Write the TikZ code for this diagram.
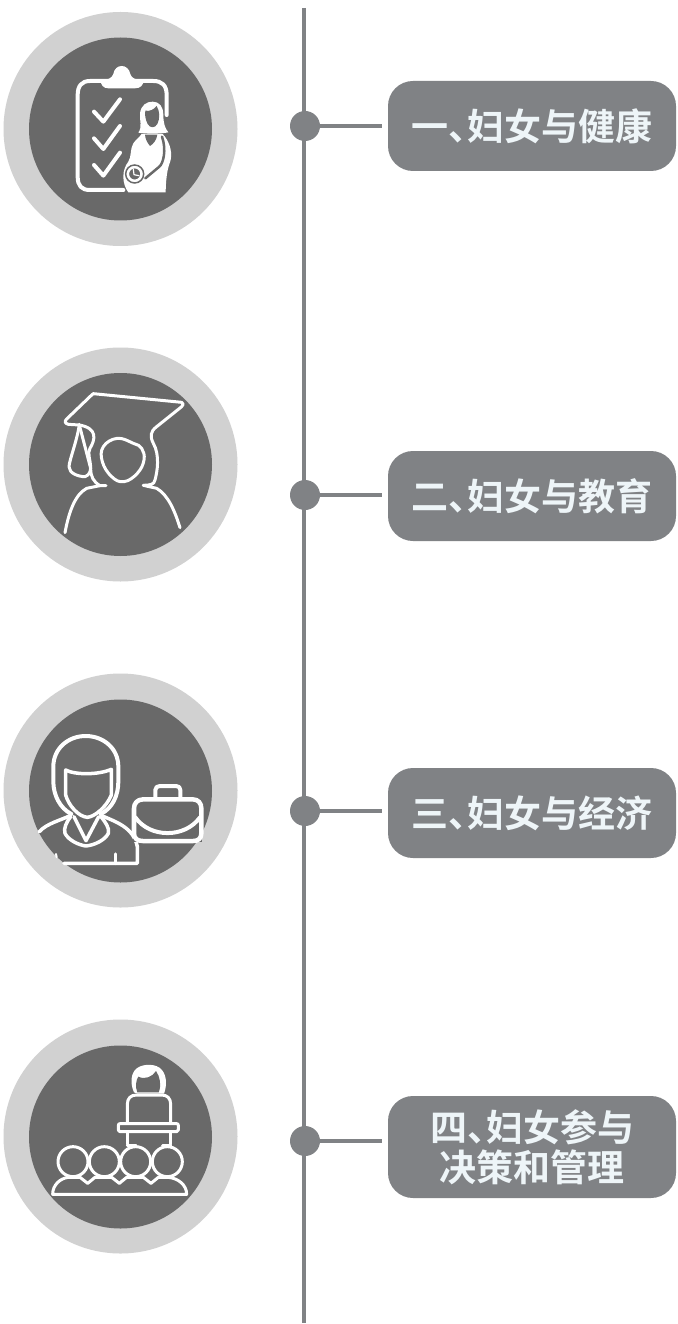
\documentclass[tikz,border=0pt]{standalone}
\usepackage{fontspec}
\newfontfamily\cjk{Noto Sans CJK SC Bold}
\definecolor{barcol}{HTML}{808285}
\definecolor{ringcol}{HTML}{D1D1D1}
\definecolor{discol}{HTML}{696969}
\definecolor{txtcol}{HTML}{EEF5F8}
\tikzset{
  ring/.style={circle,fill=ringcol,minimum size=234pt,inner sep=0pt},
  disc/.style={circle,fill=discol,minimum size=183pt,inner sep=0pt},
  dotnode/.style={circle,fill=barcol,minimum size=30pt,inner sep=0pt},
  labelbox/.style={rounded corners=25pt,fill=barcol,minimum width=288pt,inner sep=0pt,text=txtcol,align=center,font=\cjk\fontsize{37}{40}\selectfont},
  barline/.style={draw=barcol,line width=4pt},
  linkline/.style={draw=barcol,line width=3.4pt},
  icon/.style={draw=white,line width=#1,line cap=round,line join=round},
  icon/.default=3pt
}
\begin{document}
\begin{tikzpicture}[x=1pt,y=-1pt]
\useasboundingbox (0,0) rectangle (677,1324);
\fill[white] (0,0) rectangle (677,1324);
\coordinate (top) at (303.7,8);
\coordinate (bottom) at (303.7,1323);
\draw[barline] (top) -- (bottom);

% rows
\node[ring] (r1) at (120.5,129) {};
\node[disc] (c1) at (120.5,129) {};
\node[ring] (r2) at (120.5,464.5) {};
\node[disc] (c2) at (120.5,464.5) {};
\node[ring] (r3) at (120.5,790.5) {};
\node[disc] (c3) at (120.5,791) {};
\node[ring] (r4) at (120.5,1136.5) {};
\node[disc] (c4) at (120.5,1137) {};

\node[dotnode] (d1) at (305,126) {};
\node[dotnode] (d2) at (305,495) {};
\node[dotnode] (d3) at (305,811) {};
\node[dotnode] (d4) at (305,1141) {};

\node[labelbox,minimum height=90pt] (b1) at (532,126) {一、\kern-18pt妇女与健康};
\node[labelbox,minimum height=90pt] (b2) at (532,496) {二、\kern-18pt妇女与教育};
\node[labelbox,minimum height=90pt] (b3) at (532,813) {三、\kern-18pt妇女与经济};
\node[labelbox,minimum height=102pt] (b4) at (532,1147) {四、\kern-18pt妇女参与\\决策和管理};

\coordinate (e1) at (382,126);
\coordinate (e2) at (382,495);
\coordinate (e3) at (382,811);
\coordinate (e4) at (382,1141);
\foreach \i in {1,2,3,4} \draw[linkline] (d\i.center) -- (e\i);

% icon 1: clipboard and pregnant woman
\begin{scope}[scale=1/3]
  \draw[icon=4pt] (500,345) -- (500,285) .. controls (500,255) and (485,243) .. (460,243) -- (270,243) .. controls (245,243) and (233,258) .. (233,285)
    -- (233,530) .. controls (233,558) and (245,570) .. (270,570) -- (370,570);
  \fill[white] (302,240) .. controls (325,240) and (335,235) .. (340,222) .. controls (345,190) and (385,190) .. (391,222)
    .. controls (395,235) and (405,240) .. (432,240) .. controls (430,255) and (422,265) .. (405,265) -- (325,265) .. controls (310,265) and (302,255) .. (302,240) -- cycle;
  \draw[icon=4pt] (282,335) -- (310,365) -- (360,298);
  \draw[icon=4pt] (282,415) -- (310,447) -- (360,378);
  \draw[icon=4pt] (282,495) -- (310,527) -- (360,458);
  % hair
  \fill[white] (415,398) .. controls (428,380) and (418,360) .. (420,340) .. controls (423,315) and (440,305) .. (458,305)
    .. controls (478,305) and (490,320) .. (490,345) .. controls (490,370) and (495,385) .. (505,397) .. controls (480,402) and (440,402) .. (415,398) -- cycle;
  \fill[discol] (436,332) .. controls (450,335) and (462,328) .. (470,318) .. controls (480,335) and (480,355) .. (472,372) .. controls (465,385) and (450,385) .. (443,372) .. controls (436,358) and (434,345) .. (436,332) -- cycle;
  % body
  \fill[white] (425,402) -- (488,402) .. controls (505,420) and (518,450) .. (512,480) .. controls (505,500) and (498,520) .. (497,577)
    -- (385,577) .. controls (365,550) and (365,510) .. (385,485) .. controls (395,470) and (390,445) .. (400,430) .. controls (408,418) and (418,412) .. (425,402) -- cycle;
  \fill[discol] (435,404) -- (472,404) .. controls (470,420) and (460,432) .. (450,438) .. controls (442,428) and (436,418) .. (435,404) -- cycle;
  \draw[icon=2.5pt,draw=discol] (486,410) .. controls (500,450) and (490,490) .. (478,500) -- (436,535);
  \filldraw[draw=discol,line width=1.5pt,fill=white] (404,522) circle (27);
  \filldraw[draw=white,line width=1.5pt,fill=discol] (404,522) circle (19);
  \draw[icon=1.2pt] (400,508) -- (402,524) -- (417,527);
\end{scope}

% icon 2: graduate
\begin{scope}[shift={(0,345)},scale=1/3]
  \draw[icon=3pt] (318,422) -- (300,422) .. controls (280,410) and (272,395) .. (272,370) -- (238,240);
  \draw[icon=3pt] (238,238) .. controls (232,285) and (208,345) .. (207,365) .. controls (207,385) and (235,395) .. (255,395) .. controls (268,390) and (272,380) .. (272,365)
    .. controls (270,340) and (262,325) .. (270,310) .. controls (285,285) and (295,250) .. (238,240);
  \draw[icon=3pt] (205,238) .. controls (195,235) and (192,230) .. (200,222) -- (275,150) -- (280,146) -- (545,172) .. controls (552,175) and (550,180) .. (545,185) -- (470,245)
    .. controls (450,260) and (450,275) .. (460,295) .. controls (480,330) and (472,380) .. (465,405) .. controls (462,420) and (450,420) .. (430,421);
  \draw[icon=3pt] (205,238) -- (238,240);
  \draw[icon=3pt] plot[smooth cycle,tension=0.7] coordinates {(352,280) (400,295) (425,310) (432,345) (412,385) (372,410) (335,395) (307,350) (310,305)};
  \draw[icon=3pt] (195,563) .. controls (205,510) and (222,450) .. (260,430) -- (300,422);
  \draw[icon=3pt] (430,421) -- (470,430) .. controls (505,450) and (525,500) .. (540,548);
\end{scope}

% icon 3: businesswoman
\begin{scope}[shift={(0,670)},scale=1/3]
  \draw[icon=4pt] (214,432) .. controls (180,415) and (160,375) .. (160,335) -- (160,290) .. controls (160,235) and (205,198) .. (257,198) .. controls (310,198) and (355,235) .. (355,290) -- (355,335) .. controls (355,375) and (338,415) .. (302,432);
  \draw[icon=3.5pt] (197,300) .. controls (225,315) and (295,315) .. (334,298) -- (334,375) .. controls (320,410) and (285,440) .. (262,442) .. controls (235,440) and (205,405) .. (197,375) -- cycle;
  \draw[icon=3.5pt] (222,440) -- (258,512) -- (296,440);
  \draw[icon=3.5pt] (212,440) .. controls (200,455) and (190,475) .. (195,490) .. controls (205,510) and (235,525) .. (258,528) .. controls (285,525) and (315,510) .. (325,490) .. controls (330,475) and (315,455) .. (303,440);
  \draw[icon=3.5pt] (118,485) .. controls (140,460) and (185,450) .. (212,436);
  \draw[icon=3.5pt] (303,436) .. controls (345,455) and (400,470) .. (412,530) -- (412,580) -- (192,580);
  \draw[icon=3.5pt] (347,552) -- (347,580);
  \draw[icon=2pt] (168,552) -- (170,562);
  % briefcase
  \fill[discol] (400,410) rectangle (605,515);
  \draw[icon=4pt] (466,382) -- (466,360) .. controls (466,352) and (472,348) .. (480,348) -- (528,348) .. controls (536,348) and (541,352) .. (541,360) -- (541,382);
  \draw[icon=4.5pt] (430,388) -- (578,388) .. controls (595,388) and (604,400) .. (604,415) -- (604,490) .. controls (604,505) and (595,513) .. (580,513) -- (428,513) .. controls (412,513) and (402,505) .. (402,490) -- (402,415) .. controls (402,400) and (412,388) .. (430,388) -- cycle;
  \draw[icon=4pt] (406,442) .. controls (450,505) and (555,505) .. (600,442);
\end{scope}

% icon 4: speaker and audience
\begin{scope}[shift={(0,1015)},scale=1/3]
  \fill[white] (402,232) .. controls (390,205) and (392,175) .. (410,160) .. controls (430,145) and (470,145) .. (486,165) .. controls (502,185) and (500,215) .. (492,236) -- (480,236) -- (412,236) -- cycle;
  \fill[discol] (412,232) .. controls (405,215) and (408,195) .. (415,185) .. controls (435,195) and (458,185) .. (468,168) .. controls (480,185) and (485,210) .. (476,232) -- cycle;
  \draw[icon=3pt] (382,325) -- (382,268) .. controls (382,250) and (392,240) .. (410,240) -- (485,240) .. controls (502,240) and (512,250) .. (512,268) -- (512,325);
  \draw[icon=3pt] (382,350) -- (382,388);
  \draw[icon=3pt] (512,350) -- (512,388);
  \draw[icon=3pt] (360,326) -- (530,326) .. controls (535,326) and (535,329) .. (535,332) -- (535,345) .. controls (535,349) and (533,350) .. (530,350) -- (360,350) .. controls (356,350) and (355,348) .. (355,345) -- (355,332) .. controls (355,328) and (356,326) .. (360,326) -- cycle;
  \draw[icon=3pt] (382,390) -- (408,390);
  \draw[icon=3pt] (488,390) -- (512,390);
  \foreach \cx in {219,313,407,502} \draw[icon=3pt] (\cx,440) circle (45);
  \draw[icon=3pt] (158,538) -- (560,538) .. controls (560,510) and (535,490) .. (505,487) -- (475,487) -- (453,505) -- (430,487) -- (380,487) -- (358,505) -- (335,487) -- (285,487) -- (263,505) -- (240,487) -- (205,487) .. controls (180,490) and (158,510) .. (158,538) -- cycle;
\end{scope}
\end{tikzpicture}
\end{document}
